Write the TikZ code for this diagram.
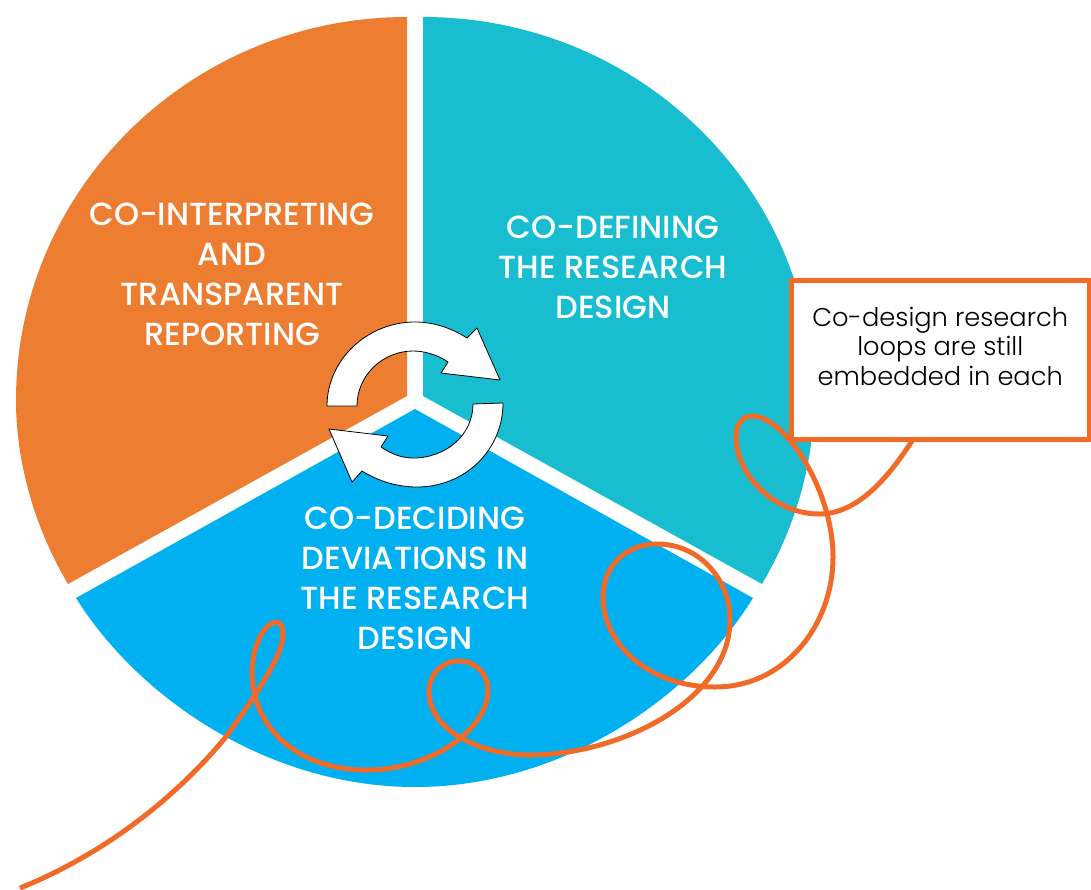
\documentclass[tikz,border=0pt]{standalone}
\usepackage{fontspec}
\setmainfont{Poppins}
\newfontfamily\partfont{Poppins Medium}
\newfontfamily\notefont{Poppins Light}
\usetikzlibrary{calc}
\definecolor{orangepart}{HTML}{ED7D31}
\definecolor{tealpart}{HTML}{19BDD0}
\definecolor{bluepart}{HTML}{00B0F0}
\definecolor{loopcolor}{HTML}{F26A28}
\newcommand{\thickness}{5pt}
\tikzset{
    parttext/.style={text=white, align=center, font=\partfont\fontsize{32}{40}\selectfont},
    notebox/.style={draw=loopcolor, fill=white, line width=\thickness, outer sep=0pt, inner sep=0pt,
        minimum width=297.5pt, minimum height=159pt, align=center, font=\notefont\fontsize{25.7}{29.5}\selectfont},
    loopline/.style={draw=loopcolor, line width=\thickness},
    syncarrow/.style={draw=black, fill=white, line width=0.8pt, line join=round}
}

\begin{document}
\begin{tikzpicture}[x=1pt,y=-1pt]
    \useasboundingbox (0,0) rectangle (1091,889);
    %Sectors:
    \fill[orangepart] (407,17) .. controls (191,17) and (16,189) .. (16,400)
        .. controls (16,465) and (36,530) .. (68,584) -- (407,396) -- cycle;
    \fill[tealpart] (423,17) .. controls (640,17) and (814,189) .. (814,400)
        .. controls (814,465) and (794,530) .. (762,584) -- (423,396) -- cycle;
    \fill[bluepart] (415,409) -- (76,598) .. controls (140,700) and (270,787) .. (415,787)
        .. controls (560,787) and (690,700) .. (753,598) -- cycle;
    %Arrows in the middle:
    \draw[syncarrow] (327,406) .. controls (327,360) and (367,322) .. (415,322)
        .. controls (435,322) and (453,329) .. (467,338) -- (477,328) -- (500,380) -- (441,373) -- (448,362)
        .. controls (438,355) and (425,351) .. (413,351)
        .. controls (383,351) and (357,375) .. (357,406) -- cycle;
    \draw[syncarrow] (503,403) .. controls (503,450) and (465,487) .. (417,487)
        .. controls (397,487) and (378,481) .. (362,471) -- (352,482) -- (329,429) -- (388,436) -- (381,447)
        .. controls (391,454) and (402,458) .. (413,458)
        .. controls (446,458) and (473,435) .. (473,404) -- cycle;
    %Labels:
    \node[parttext] (interpreting) at (232,274.5) {CO-INTERPRETING\\AND\\TRANSPARENT\\REPORTING};
    \node[parttext] (defining) at (613,267.5) {CO-DEFINING\\THE RESEARCH\\DESIGN};
    \node[parttext] (deciding) at (415,578.5) {CO-DECIDING\\DEVIATIONS IN\\THE RESEARCH\\DESIGN};
    %Note and its loops:
    \node[notebox] (note) at (940.25,359.5) {Co-design research\\loops are still\\embedded in each\\[-3pt]\mbox{}};
    \coordinate (tail) at (20,888);
    \draw[loopline] ($(note.south)+(-27,0)$) .. controls (885,483) and (855,514) .. (819,514)
        .. controls (775,514) and (736,475) .. (736,437)
        .. controls (736,425) and (742,416) .. (752,416)
        .. controls (785,416) and (833,490) .. (833,557)
        .. controls (833,625) and (785,687) .. (715,687)
        .. controls (650,687) and (603,645) .. (603,597)
        .. controls (603,565) and (627,544) .. (657,544)
        .. controls (700,544) and (730,580) .. (730,620)
        .. controls (730,700) and (620,755) .. (530,755)
        .. controls (480,755) and (429,730) .. (429,692)
        .. controls (429,673) and (443,661) .. (459,661)
        .. controls (476,661) and (488,674) .. (488,690)
        .. controls (488,730) and (430,770) .. (367,770)
        .. controls (295,770) and (252,725) .. (252,673)
        .. controls (252,645) and (265,622) .. (277,622)
        .. controls (281,622) and (283,628) .. (283,635)
        .. controls (283,655) and (255,697) .. (225,738)
        .. controls (165,810) and (90,860) .. (tail);
\end{tikzpicture}
\end{document}
